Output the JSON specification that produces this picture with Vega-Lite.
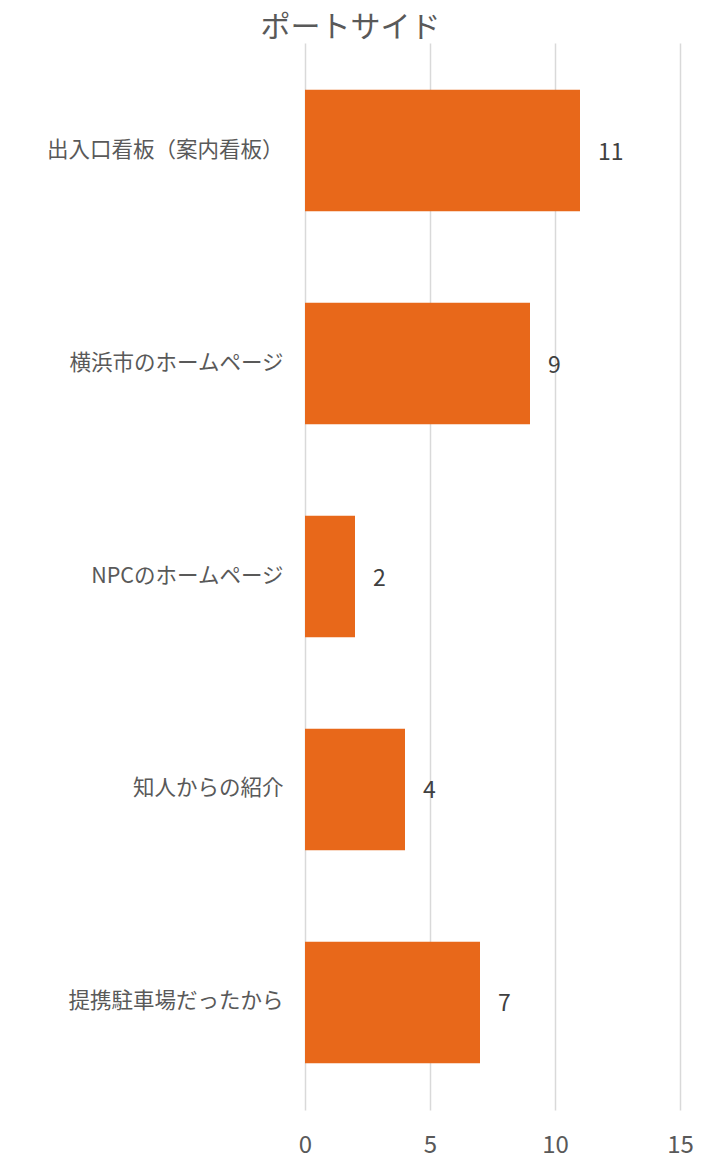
{
  "$schema": "https://vega.github.io/schema/vega-lite/v6.json",
  "autosize": {"type": "none"},
  "width": 375,
  "height": 1067,
  "padding": {"left": 305, "top": 43, "right": 25, "bottom": 54},
  "background": "white",
  "title": {
    "text": "ポートサイド",
    "font": "Noto Sans CJK JP",
    "fontSize": 30,
    "fontWeight": "normal",
    "color": "#595959",
    "anchor": "middle",
    "frame": "group",
    "dx": -142,
    "dy": 32,
    "baseline": "bottom",
    "offset": 2
  },
  "data": {
    "values": [
      {"category": "出入口看板（案内看板）", "count": 11},
      {"category": "横浜市のホームページ", "count": 9},
      {"category": "NPCのホームページ", "count": 2},
      {"category": "知人からの紹介", "count": 4},
      {"category": "提携駐車場だったから", "count": 7}
    ]
  },
  "encoding": {
    "y": {
      "field": "category",
      "type": "nominal",
      "sort": null,
      "scale": {"paddingInner": 0.43, "paddingOuter": 0.22},
      "axis": {
        "title": null,
        "domain": false,
        "ticks": false,
        "labelPadding": 22,
        "labelFont": "Noto Sans CJK JP",
        "labelFontSize": 21.5,
        "labelColor": "#595959",
        "labelLimit": 400
      }
    },
    "x": {
      "field": "count",
      "type": "quantitative",
      "scale": {"domain": [0, 15], "nice": false},
      "axis": {
        "title": null,
        "values": [0, 5, 10, 15],
        "domain": false,
        "ticks": false,
        "grid": true,
        "gridColor": "#D9D9D9",
        "gridWidth": 1.5,
        "labelFlush": false,
        "labelPadding": 23,
        "labelFont": "Noto Sans CJK JP",
        "labelFontSize": 24,
        "labelColor": "#595959",
        "labelBaseline": "top"
      }
    }
  },
  "layer": [
    {"mark": {"type": "bar", "color": "#E8681A"}},
    {
      "mark": {
        "type": "text",
        "align": "left",
        "baseline": "middle",
        "dx": 18,
        "dy": 2,
        "font": "Noto Sans CJK JP",
        "fontSize": 23,
        "color": "#404040"
      },
      "encoding": {"text": {"field": "count", "type": "quantitative"}}
    }
  ],
  "config": {"view": {"stroke": null}}
}
